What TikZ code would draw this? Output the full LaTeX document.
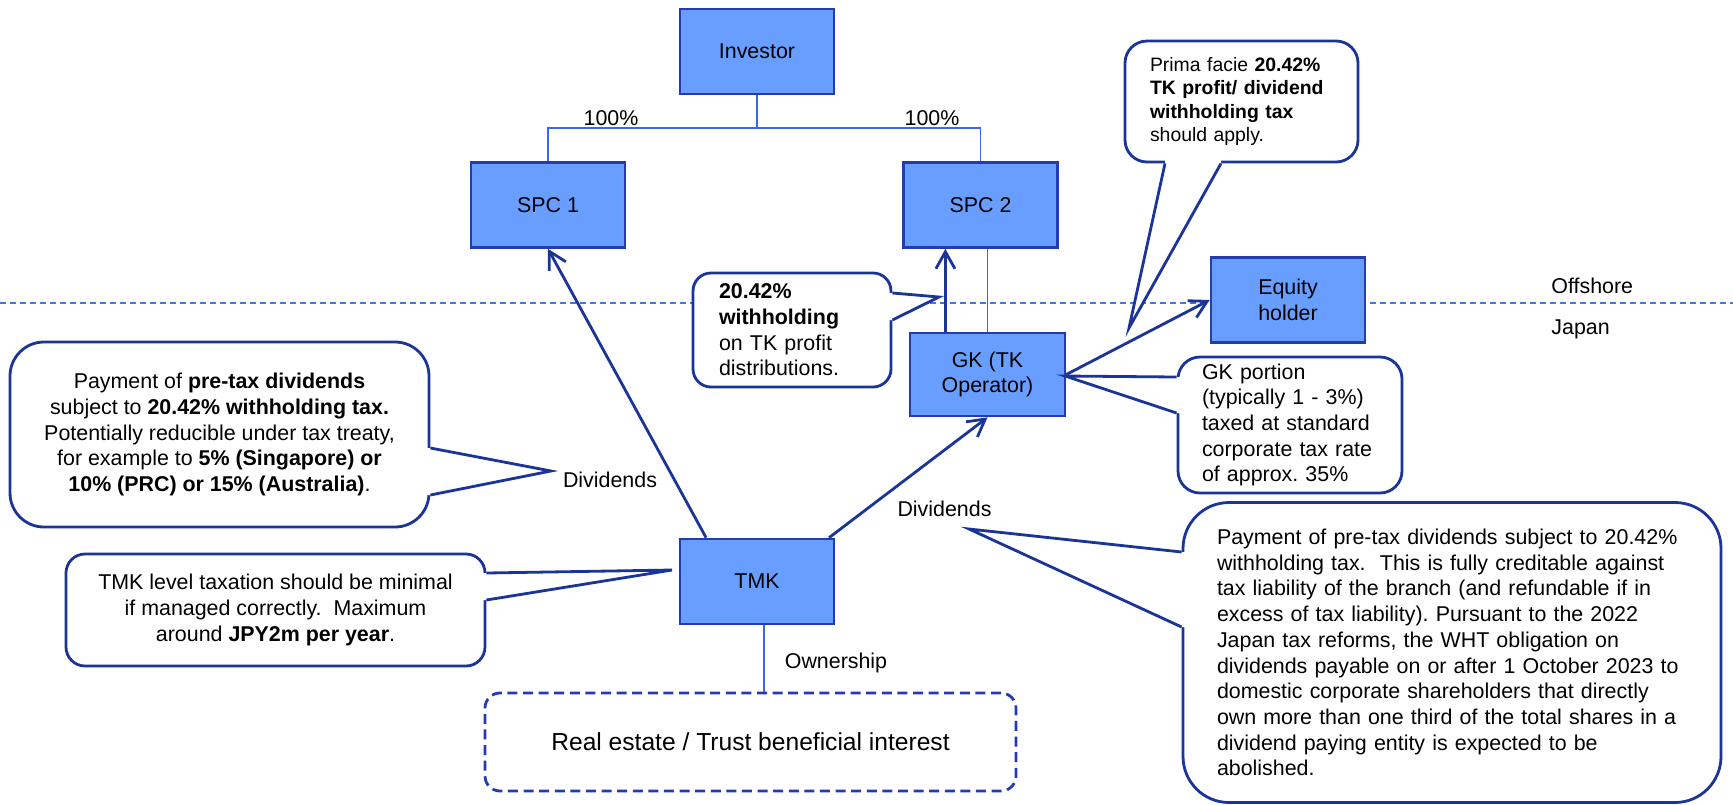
\documentclass[tikz,border=0pt]{standalone}
\usepackage{fontspec}
\setmainfont{Liberation Sans}
\usetikzlibrary{arrows.meta,calc}

\definecolor{boxfill}{RGB}{103,158,255}
\definecolor{boxline}{RGB}{34,60,176}
\definecolor{navy}{RGB}{26,52,152}
\definecolor{treeline}{RGB}{62,102,228}
\definecolor{sepline}{RGB}{74,114,232}

\begin{document}
\frenchspacing
\begin{tikzpicture}[x=0.5pt,y=-0.5pt,
  every node/.style={font=\fontsize{10.7}{12.85}\selectfont, text=black},
  entity/.style={draw=boxline, line width=1.35pt, fill=boxfill,
    minimum width=77pt, minimum height=42.5pt, inner sep=0pt, align=center},
  tree/.style={draw=treeline, line width=0.75pt},
  flow/.style={draw=navy, line width=1.4pt,
    -{Straight Barb[length=8.5pt,width=9.5pt,line width=1.4pt]}},
  bubble/.style={draw=navy, line width=1.4pt, fill=white, inner sep=0pt},
  tail/.style={draw=navy, line width=1.4pt},
  tag/.style={inner sep=0pt},
  separator/.style={draw=sepline, line width=1pt, dash pattern=on 3pt off 2pt},
  holding/.style={draw=boxline, line width=1.4pt, dash pattern=on 5pt off 2.8pt,
    rounded corners=7.5pt, fill=white, inner sep=0pt}
]
\useasboundingbox (0,0) rectangle (1733,804);

% offshore / Japan boundary
\coordinate (sepL) at (0,303);
\coordinate (sepR) at (1733,303);
\draw[separator] (sepL) -- (sepR);
\node[tag, anchor=base west] (offshore) at (1551,293) {Offshore};
\node[tag, anchor=base west] (japan) at (1551,334) {Japan};

% entities
\node[entity] (inv) at (757,51.5) {Investor};
\node[entity] (spc1) at (548,205) {SPC 1};
\node[entity] (spc2) at (980.5,205) {SPC 2};
\node[entity, minimum width=77.5pt, minimum height=41.5pt] (gk) at (987.5,374.5) {GK (TK\\Operator)};
\node[entity] (eq) at (1288,300) {Equity\\holder};
\node[entity] (tmk) at (757,581.5) {TMK};
\node[holding, minimum width=265.5pt, minimum height=49pt,
      font=\fontsize{12.3}{14}\selectfont] (estate) at (750.5,742)
      {Real estate / Trust beneficial interest};

% ownership tree
\coordinate (fork) at (757,128);
\draw[tree] (inv.south) -- (fork);
\draw[tree] (spc1.north) |- (fork) -| (spc2.north);
\node[tag, anchor=base] (pct1) at (611,125) {100\%};
\node[tag, anchor=base] (pct2) at (932,125) {100\%};
\draw[tree] (gk.north) -- (gk.north |- spc2.south);
\coordinate (own) at ($(tmk.south)+(7,0)$);
\draw[tree] (own) -- (own |- estate.north);
\node[tag, anchor=base] (ownlbl) at (836,668) {Ownership};

% cash flows
\coordinate (gkup) at ($(gk.north west)!0.233!(gk.north east)$);
\draw[flow] (gkup) -- (gkup |- spc2.south);
\coordinate (tmkl) at ($(tmk.north west)!0.175!(tmk.north east)$);
\draw[flow] (tmkl) -- (spc1.south);
\coordinate (tmkr) at ($(tmk.north west)!0.96!(tmk.north east)$);
\draw[flow] (tmkr) -- (gk.south);
\draw[flow] (gk.east) -- (eq.west);
\node[tag, anchor=base] (div1) at (610,487) {Dividends};
\node[tag, anchor=base] (div2) at (944.5,516) {Dividends};

% note on SPC 1 dividends
\node[bubble, rounded corners=17pt, minimum width=209.5pt, minimum height=92.5pt,
      align=center] (divnote) at (219.5,434.5)
  {Payment of \textbf{pre-tax dividends}\\
   subject to \textbf{20.42\% withholding tax.}\\
   Potentially reducible under tax treaty,\\
   for example to \textbf{5\% (Singapore) or}\\
   \textbf{10\% (PRC) or 15\% (Australia)}.};
\coordinate (divtip) at (551,471);
\fill[white] (divnote.east |- 0,448) -- (divtip) -- (divnote.east |- 0,495) -- ++(-4,0) -- ++(0,-47) -- cycle;
\draw[tail] (divnote.east |- 0,448) -- (divtip) -- (divnote.east |- 0,495);

% note on TMK taxation
\node[bubble, rounded corners=9.5pt, minimum width=209.5pt, minimum height=56pt,
      align=center] (tmknote) at (275.5,610)
  {TMK level taxation should be minimal\\
   if managed correctly.\ \ Maximum\\
   around \textbf{JPY2m per year}.};
\coordinate (tmktip) at (672,570);
\fill[white] (tmknote.east |- 0,573) -- (tmktip) -- (tmknote.east |- 0,600) -- ++(-4,0) -- ++(0,-27) -- cycle;
\draw[tail] (tmknote.east |- 0,573) -- (tmktip) -- (tmknote.east |- 0,600);

% note on TK distributions
\node[bubble, rounded corners=9pt, minimum width=99pt, minimum height=57pt,
      text width=73pt, align=left] (tknote) at (792,330)
  {\textbf{20.42\%}\\
   \textbf{withholding}\\
   on TK profit\\
   distributions.};
\coordinate (tktip) at (939,297);
\fill[white] (tknote.east |- 0,293) -- (tktip) -- (tknote.east |- 0,320) -- ++(-4,0) -- ++(0,-27) -- cycle;
\draw[tail] (tknote.east |- 0,293) -- (tktip) -- (tknote.east |- 0,320);

% note on equity holder withholding
\node[bubble, rounded corners=11pt, minimum width=116.5pt, minimum height=60.5pt,
      text width=91.5pt, align=left, font=\fontsize{9.7}{11.65}\selectfont] (pfnote) at (1241.5,101.5)
  {Prima facie \textbf{20.42\%}\\
   \textbf{TK profit/ dividend}\\
   \textbf{withholding tax}\\
   should apply.};
\coordinate (pftip) at (1129,328);
\fill[white] (1165,0 |- pfnote.south) -- (pftip) -- (1221,0 |- pfnote.south) -- ++(0,-4) -- ++(-56,0) -- cycle;
\draw[tail] (1165,0 |- pfnote.south) -- (pftip) -- (1221,0 |- pfnote.south);

% note on GK portion
\node[bubble, rounded corners=11pt, minimum width=112pt, minimum height=68pt,
      text width=88pt, align=left] (gknote) at (1290,425)
  {GK portion\\
   (typically 1 - 3\%)\\
   taxed at standard\\
   corporate tax rate\\
   of approx. 35\%};
\coordinate (gktip) at (1065,376);
\fill[white] (gknote.west |- 0,377) -- (gktip) -- (gknote.west |- 0,413) -- ++(4,0) -- ++(0,-36) -- cycle;
\draw[tail] (gknote.west |- 0,377) -- (gktip) -- (gknote.west |- 0,413);

% note on domestic dividends
\node[bubble, rounded corners=23pt, minimum width=269pt, minimum height=150pt,
      text width=235pt, align=left] (whtnote) at (1452,652.5)
  {Payment of pre-tax dividends subject to 20.42\%\\
   withholding tax.\ \ This is fully creditable against\\
   tax liability of the branch (and refundable if in\\
   excess of tax liability). Pursuant to the 2022\\
   Japan tax reforms, the WHT obligation on\\
   dividends payable on or after 1 October 2023 to\\
   domestic corporate shareholders that directly\\
   own more than one third of the total shares in a\\
   dividend paying entity is expected to be\\
   abolished.};
\coordinate (whttip) at (969,529);
\fill[white] (whtnote.west |- 0,552) -- (whttip) -- (whtnote.west |- 0,627) -- ++(4,0) -- ++(0,-75) -- cycle;
\draw[tail] (whtnote.west |- 0,552) -- (whttip) -- (whtnote.west |- 0,627);

\end{tikzpicture}
\end{document}
